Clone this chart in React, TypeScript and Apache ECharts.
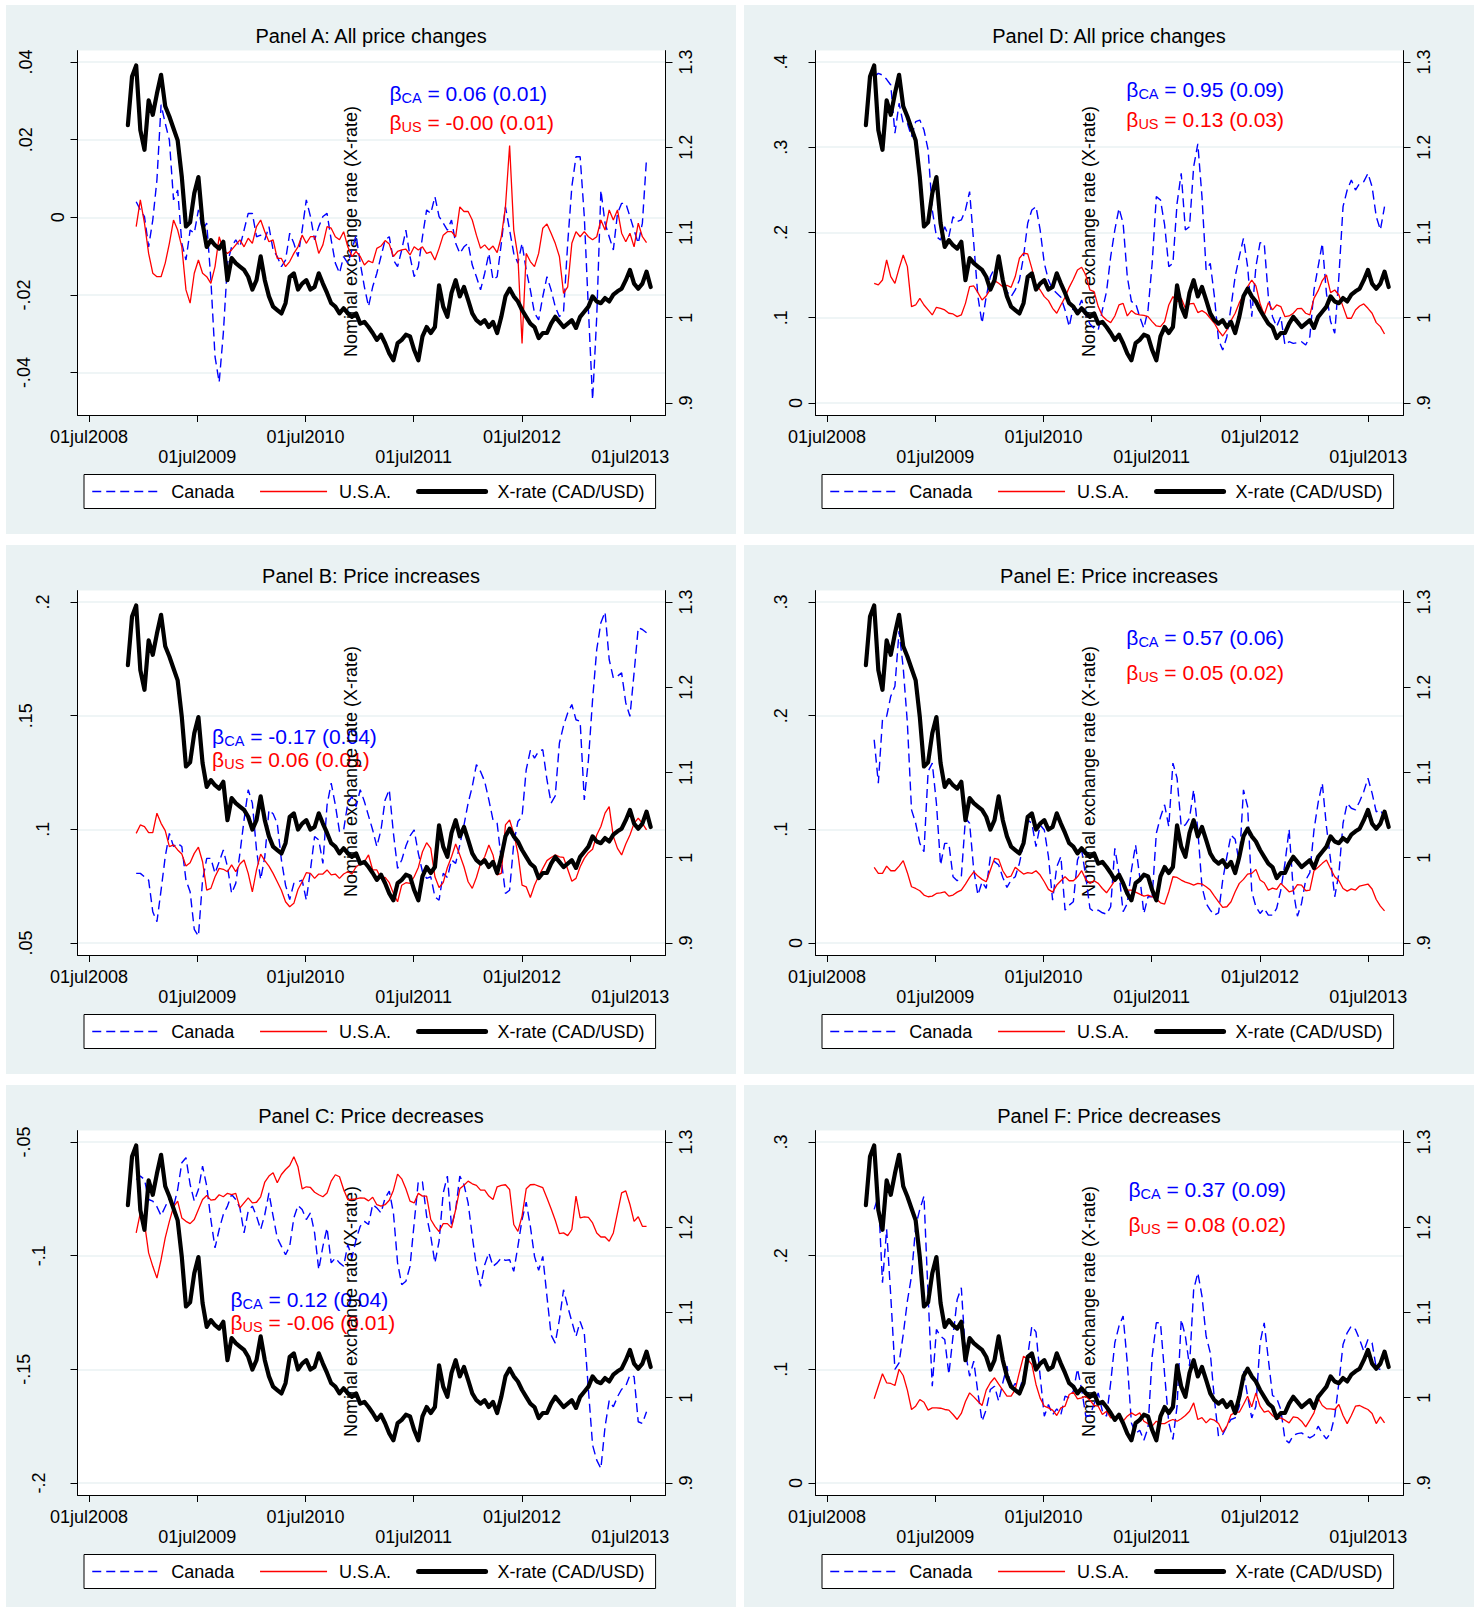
import React, { useEffect, useRef } from "react";
import * as echarts from "echarts";

const FONT = '"Liberation Sans", Arial, Helvetica, sans-serif';
const BG = "#eaf2f3";
const BLUE = "#0000ff";
const RED = "#ff0000";
const DAY = 86400000;

// sampling of the weekly series (every second week)
const startDate = Date.UTC(2008, 10, 9);
const stepDays = 14;
const axisMinDate = Date.UTC(2008, 4, 23);
const axisMaxDate = Date.UTC(2013, 9, 28);
const yearTickDates = [2008, 2009, 2010, 2011, 2012, 2013].map((y) => Date.UTC(y, 6, 1));
const rightTicks = [0.9, 1.0, 1.1, 1.2, 1.3];

// Nominal exchange rate CAD/USD (right axis, same in all panels)
const xRate = [
  1.226, 1.283, 1.296, 1.22, 1.197, 1.255, 1.238, 1.263, 1.285, 1.248,
  1.236, 1.222, 1.208, 1.165, 1.107, 1.112, 1.146, 1.165, 1.111, 1.083,
  1.091, 1.085, 1.081, 1.089, 1.044, 1.07, 1.064, 1.06, 1.056, 1.048,
  1.033, 1.044, 1.072, 1.044, 1.025, 1.013, 1.009, 1.005, 1.017, 1.048,
  1.052, 1.033, 1.04, 1.044, 1.033, 1.036, 1.052, 1.04, 1.029, 1.017,
  1.013, 1.005, 1.011, 1.005, 1.001, 1.005, 0.993, 0.995, 0.989, 0.982,
  0.974, 0.98, 0.97, 0.958, 0.95, 0.97, 0.974, 0.98, 0.978, 0.962,
  0.95, 0.978, 0.989, 0.982, 0.989, 1.038, 1.013, 1.001, 1.029, 1.044,
  1.025, 1.036, 1.021, 1.005, 0.997, 0.993, 0.997, 0.989, 0.995, 0.982,
  1.001, 1.025, 1.034, 1.025, 1.019, 1.009, 1.001, 0.993, 0.989, 0.976,
  0.982, 0.982, 0.993, 1.001, 0.995, 0.989, 0.993, 0.997, 0.988, 1.001,
  1.007, 1.013, 1.025, 1.019, 1.017, 1.023, 1.019, 1.027, 1.031, 1.034,
  1.044, 1.056, 1.04, 1.034, 1.04, 1.054, 1.036,
];

// Panel A: all price changes
const caA = [
  null, null,
  0.004, 0.0019, 0.0002, -0.0076, -0.0007, 0.0096, 0.029, 0.0242, 0.0199, 0.0045,
  0.007, -0.0067, -0.011, -0.0033, -0.0041, 0.0019, -0.0033, -0.0015, -0.0161, -0.0359,
  -0.0425, -0.0299, -0.0118, -0.0076, -0.0058, -0.0076, -0.0033, 0.001, 0.001, -0.005,
  -0.0046, -0.0058, -0.0024, -0.0084, -0.0101, -0.0127, -0.011, -0.0041, -0.0067, -0.0101,
  -0.0033, 0.0045, 0.0002, -0.0058, -0.0024, 0.0002, 0.001, -0.0058, -0.0118, -0.0144,
  -0.0101, -0.0118, -0.0084, -0.0046, -0.0118, -0.0179, -0.023, -0.0179, -0.0144, -0.0101,
  -0.0058, -0.005, -0.011, -0.0127, -0.0084, -0.0033, -0.0101, -0.0153, -0.0127, -0.005,
  0.0019, 0.001, 0.0053, 0.0002, -0.0015, -0.0033, -0.0007, -0.0067, -0.0093, -0.0076,
  -0.0067, -0.0123, -0.0153, -0.0187, -0.0144, -0.0093, -0.0161, -0.0153, -0.0067, 0.0027,
  -0.0033, -0.0093, -0.0118, -0.0067, -0.0136, -0.0187, -0.0247, -0.0264, -0.0204, -0.0153,
  -0.0187, -0.023, -0.0256, -0.0243, -0.0067, 0.0079, 0.0156, 0.0156, 0.0002, -0.0239,
  -0.047, -0.0256, 0.007, -0.0015, -0.005, -0.0084, 0.001, 0.0036, 0.0036, 0.0002,
  -0.0033, -0.0067, -0.0015, 0.0152,
];
const usA = [
  null, null,
  -0.0024, 0.0045, -0.0015, -0.0093, -0.0144, -0.0153, -0.0153, -0.0118, -0.0067, -0.0007,
  -0.0033, -0.0076, -0.0187, -0.0221, -0.0144, -0.011, -0.0144, -0.0153, -0.017, -0.0127,
  -0.005, -0.0084, -0.0093, -0.0084, -0.0071, -0.0058, -0.0076, -0.0054, -0.0067, -0.0024,
  -0.0007, -0.0037, -0.0063, -0.0058, -0.0106, -0.0106, -0.0127, -0.0114, -0.0093, -0.0076,
  -0.0046, -0.0067, -0.005, -0.005, -0.0093, -0.0071, -0.0024, -0.0028, -0.005, -0.0058,
  -0.0037, -0.0076, -0.0101, -0.0088, -0.0101, -0.0123, -0.0112, -0.0117, -0.008, -0.0074,
  -0.006, -0.0069, -0.0101, -0.0088, -0.0084, -0.0082, -0.0097, -0.0076, -0.0084, -0.0076,
  -0.0093, -0.0089, -0.011, -0.008, -0.0046, -0.0037, -0.0037, -0.005, 0.0027, 0.0015,
  0.0015, -0.0007, -0.0046, -0.008, -0.0071, -0.0084, -0.0074, -0.0091, -0.005, 0.0027,
  0.0185, -0.0033, -0.0101, -0.0325, -0.0093, -0.0114, -0.0127, -0.0093, -0.0028, -0.0017,
  -0.0041, -0.0067, -0.0101, -0.0196, -0.0179, -0.0067, -0.0037, -0.005, -0.0037, -0.005,
  -0.0058, -0.005, -0.0007, -0.0033, 0.0019, -0.0007, 0.0019, -0.0041, -0.0063, -0.0041,
  -0.0076, -0.0015, -0.005, -0.0065,
];

// Panel D: all price changes
const caD = [
  null, null,
  0.3828, 0.3867, 0.3847, 0.3797, 0.373, 0.3164, 0.3516, 0.3281, 0.3281, 0.3124,
  0.33, 0.3319, 0.3202, 0.2968, 0.2264, 0.1951, 0.1912, 0.2068, 0.1951, 0.2186,
  0.2127, 0.2147, 0.2264, 0.2479, 0.1873, 0.1247, 0.0934, 0.1247, 0.1482, 0.1579,
  0.1638, 0.1443, 0.1306, 0.1247, 0.1325, 0.1443, 0.1717, 0.2108, 0.2264, 0.2303,
  0.2029, 0.1638, 0.1443, 0.1333, 0.1286, 0.1239, 0.1091, 0.0895, 0.113, 0.1091,
  0.1208, 0.1032, 0.0926, 0.0875, 0.0856, 0.1091, 0.1306, 0.1717, 0.2029, 0.2283,
  0.2107, 0.1482, 0.1188, 0.1168, 0.1012, 0.0875, 0.1091, 0.1638, 0.242, 0.2381,
  0.2088, 0.1599, 0.1638, 0.2342, 0.2694, 0.2029, 0.2068, 0.2772, 0.3040, 0.242,
  0.156, 0.1638, 0.1247, 0.0738, 0.0621, 0.0777, 0.113, 0.1482, 0.1717, 0.1931,
  0.1599, 0.1012, 0.1599, 0.188, 0.1873, 0.1247, 0.1012, 0.0895, 0.1012, 0.0679,
  0.0718, 0.0699, 0.0707, 0.0718, 0.0679, 0.0777, 0.1325, 0.1599, 0.1873, 0.1286,
  0.0954, 0.0817, 0.1482, 0.2303, 0.2498, 0.2616, 0.2498, 0.2577, 0.2596, 0.2694,
  0.2537, 0.2186, 0.2029, 0.2303,
];
const usD = [
  null, null,
  0.1403, 0.1384, 0.1442, 0.1677, 0.1482, 0.1403, 0.1579, 0.1736, 0.1599, 0.113,
  0.1149, 0.1227, 0.1149, 0.1091, 0.1032, 0.1122, 0.111, 0.1091, 0.1052, 0.1044,
  0.1012, 0.1032, 0.1168, 0.1364, 0.1372, 0.1294, 0.1208, 0.1255, 0.1333, 0.1435,
  0.1403, 0.1364, 0.138, 0.1356, 0.1482, 0.1697, 0.1756, 0.1748, 0.1579, 0.1384,
  0.1325, 0.1247, 0.12, 0.111, 0.1052, 0.1149, 0.1239, 0.1356, 0.145, 0.156,
  0.1591, 0.1501, 0.1325, 0.1306, 0.113, 0.102, 0.0973, 0.0942, 0.102, 0.1149,
  0.1168, 0.102, 0.1083, 0.1044, 0.1032, 0.1028, 0.1012, 0.0954, 0.0903, 0.0895,
  0.0954, 0.1149, 0.1247, 0.1188, 0.1227, 0.111, 0.1161, 0.1168, 0.106, 0.1083,
  0.1052, 0.0993, 0.0934, 0.0848, 0.0785, 0.0856, 0.0965, 0.1052, 0.1176, 0.1266,
  0.1364, 0.1442, 0.1372, 0.1168, 0.1032, 0.1176, 0.1091, 0.1149, 0.113, 0.1012,
  0.102, 0.1052, 0.1106, 0.111, 0.1052, 0.1032, 0.1227, 0.1317, 0.1435, 0.1501,
  0.1294, 0.1325, 0.1266, 0.113, 0.0993, 0.0993, 0.1091, 0.1137, 0.1161, 0.111,
  0.1052, 0.0942, 0.0895, 0.0809,
];

// Panel B: price increases
const caB = [
  null, null,
  0.0806, 0.0806, 0.0791, 0.0776, 0.0637, 0.0593, 0.0732, 0.0879, 0.0982, 0.0924,
  0.0938, 0.0924, 0.0776, 0.0725, 0.056, 0.053, 0.0776, 0.0872, 0.0872, 0.0806,
  0.0857, 0.0909, 0.0835, 0.0718, 0.0762, 0.0894, 0.1041, 0.1174, 0.1115, 0.0909,
  0.0779, 0.0879, 0.1085, 0.1068, 0.1026, 0.0865, 0.0754, 0.0691, 0.0762, 0.0769,
  0.0776, 0.0688, 0.0821, 0.0968, 0.0953, 0.085, 0.1106, 0.1203, 0.1107, 0.099,
  0.0997, 0.1115, 0.1144, 0.11, 0.1174, 0.1122, 0.1059, 0.0997, 0.0924, 0.0997,
  0.1129, 0.1174, 0.0982, 0.0828, 0.0865, 0.0926, 0.0971, 0.0997, 0.0894, 0.0813,
  0.0784, 0.0791, 0.0703, 0.0688, 0.0806, 0.0788, 0.0865, 0.085, 0.0931, 0.1018,
  0.1115, 0.1188, 0.1284, 0.1254, 0.121, 0.1129, 0.1041, 0.1026, 0.0865, 0.0718,
  0.0732, 0.0938, 0.1034, 0.1056, 0.1262, 0.1347, 0.1313, 0.1343, 0.135, 0.1218,
  0.1115, 0.1147, 0.1379, 0.1456, 0.1512, 0.1549, 0.1482, 0.1475, 0.1129, 0.1306,
  0.1571, 0.1791, 0.1909, 0.1956, 0.1747, 0.1666, 0.1674, 0.1688, 0.1556, 0.1497,
  0.1688, 0.1887, 0.1879, 0.1865,
];
const usB = [
  null, null,
  0.0982, 0.1019, 0.1012, 0.0985, 0.0985, 0.1071, 0.1026, 0.0994, 0.0924, 0.0931,
  0.0909, 0.0891, 0.0838, 0.0853, 0.0894, 0.0921, 0.0857, 0.0732, 0.074, 0.0791,
  0.0828, 0.0824, 0.0813, 0.0843, 0.0813, 0.0847, 0.0865, 0.0806, 0.0725, 0.0821,
  0.0891, 0.0862, 0.0838, 0.0806, 0.0769, 0.0732, 0.0681, 0.0659, 0.0674, 0.0735,
  0.0769, 0.0809, 0.0806, 0.0784, 0.0803, 0.0803, 0.0821, 0.0799, 0.0803, 0.0784,
  0.0803, 0.0813, 0.0803, 0.0835, 0.0847, 0.0857, 0.0887, 0.0821, 0.0821, 0.0784,
  0.0788, 0.0765, 0.0718, 0.0681, 0.0754, 0.0765, 0.0762, 0.0791, 0.0832, 0.0901,
  0.0941, 0.0916, 0.0791, 0.0744, 0.0765, 0.0832, 0.0879, 0.0935, 0.0887, 0.0835,
  0.0769, 0.074, 0.0788, 0.085, 0.0879, 0.0931, 0.0887, 0.0799, 0.0806, 0.1019,
  0.1041, 0.0982, 0.0894, 0.0754, 0.0747, 0.07, 0.0754, 0.0794, 0.0828, 0.0862,
  0.0876, 0.0887, 0.0879, 0.0876, 0.0824, 0.0771, 0.0784, 0.0835, 0.0872, 0.0897,
  0.0912, 0.0975, 0.1012, 0.1071, 0.11, 0.0968, 0.0916, 0.0887, 0.0935, 0.0975,
  0.1026, 0.1049, 0.1026, 0.0997,
];

// Panel E: price increases
const caE = [
  null, null,
  0.1788, 0.1406, 0.1965, 0.1994, 0.2171, 0.2259, 0.2744, 0.2421, 0.1935, 0.1171,
  0.1053, 0.0876, 0.0803, 0.1509, 0.1582, 0.1229, 0.0685, 0.0876, 0.0876, 0.0582,
  0.0547, 0.0582, 0.1097, 0.1053, 0.0641, 0.0421, 0.0538, 0.0479, 0.0759, 0.0715,
  0.0685, 0.0576, 0.0488, 0.0553, 0.0582, 0.07, 0.0876, 0.1082, 0.1053, 0.0847,
  0.1038, 0.0994, 0.0759, 0.0376, 0.0671, 0.0759, 0.0288, 0.0332, 0.0362, 0.0729,
  0.0818, 0.0582, 0.0303, 0.0274, 0.0288, 0.0265, 0.0253, 0.0318, 0.0832, 0.0612,
  0.0274, 0.0347, 0.0641, 0.0862, 0.0582, 0.0259, 0.0406, 0.0406, 0.0965, 0.1106,
  0.1215, 0.1024, 0.1582, 0.145, 0.1024, 0.1038, 0.1097, 0.1347, 0.0994, 0.0494,
  0.0347, 0.0288, 0.0244, 0.0265, 0.0553, 0.0759, 0.095, 0.0912, 0.07, 0.1347,
  0.12, 0.045, 0.0318, 0.0259, 0.0303, 0.0244, 0.0244, 0.0303, 0.0465, 0.07,
  0.1, 0.0465, 0.0235, 0.0347, 0.0553, 0.0618, 0.0994, 0.1235, 0.1406, 0.1024,
  0.0729, 0.0406, 0.0612, 0.1053, 0.1229, 0.1185, 0.1171, 0.1244, 0.1332, 0.145,
  0.1318, 0.1153, 0.1171, 0.11,
];
const usE = [
  null, null,
  0.0665, 0.0612, 0.0612, 0.0676, 0.0635, 0.0635, 0.0676, 0.0724, 0.0618, 0.0494,
  0.0479, 0.0459, 0.0421, 0.0406, 0.0412, 0.0435, 0.0441, 0.045, 0.0412, 0.0421,
  0.0447, 0.0465, 0.0518, 0.0576, 0.0626, 0.0588, 0.0559, 0.0538, 0.0641, 0.0744,
  0.0735, 0.0635, 0.0576, 0.0588, 0.0665, 0.0635, 0.0606, 0.0618, 0.0612, 0.0635,
  0.0597, 0.0538, 0.0471, 0.0447, 0.0509, 0.0547, 0.0582, 0.0547, 0.0547, 0.0582,
  0.0635, 0.0559, 0.0524, 0.0547, 0.0524, 0.0479, 0.0441, 0.0494, 0.0547, 0.0582,
  0.0518, 0.0465, 0.0465, 0.0447, 0.0429, 0.0412, 0.0421, 0.0406, 0.0388, 0.0353,
  0.0341, 0.045, 0.0582, 0.0576, 0.0553, 0.0535, 0.0524, 0.0509, 0.0524, 0.0518,
  0.0494, 0.0465, 0.0412, 0.0362, 0.0312, 0.0318, 0.0362, 0.045, 0.0524, 0.0559,
  0.0606, 0.0612, 0.0647, 0.0553, 0.0529, 0.0465, 0.0482, 0.0471, 0.0524, 0.0488,
  0.045, 0.0459, 0.0512, 0.0509, 0.0459, 0.0465, 0.0635, 0.0665, 0.07, 0.0729,
  0.0653, 0.0582, 0.0547, 0.0479, 0.0456, 0.0476, 0.0465, 0.05, 0.0509, 0.0518,
  0.0474, 0.0382, 0.0324, 0.0282,
];

// Panel C: price decreases
const caC = [
  null, null,
  -0.0665, -0.065, -0.0665, -0.0753, -0.076, -0.0785, -0.0824, -0.0785, -0.0746, -0.0785,
  -0.0709, -0.0591, -0.0569, -0.0687, -0.076, -0.0709, -0.0606, -0.0694, -0.0841, -0.0966,
  -0.0885, -0.0819, -0.0782, -0.0731, -0.0753, -0.079, -0.09, -0.0804, -0.0782, -0.0826,
  -0.0885, -0.0819, -0.0724, -0.0826, -0.0922, -0.0959, -0.0996, -0.0959, -0.0834, -0.0779,
  -0.0797, -0.0841, -0.0812, -0.09, -0.1062, -0.0959, -0.0878, -0.1032, -0.101, -0.1032,
  -0.1047, -0.0951, -0.101, -0.0929, -0.0871, -0.0849, -0.0863, -0.0775, -0.079, -0.0812,
  -0.0746, -0.0716, -0.0812, -0.1032, -0.1128, -0.1113, -0.1047, -0.0856, -0.0672, -0.0676,
  -0.0826, -0.0915, -0.1032, -0.0937, -0.0724, -0.065, -0.0871, -0.0797, -0.065, -0.0687,
  -0.0768, -0.0915, -0.1047, -0.1135, -0.104, -0.0988, -0.1047, -0.1032, -0.101, -0.1021,
  -0.1018, -0.1069, -0.0959, -0.0841, -0.0765, -0.0871, -0.1003, -0.1065, -0.1003, -0.1179,
  -0.1349, -0.1385, -0.1282, -0.115, -0.1224, -0.129, -0.1356, -0.129, -0.1341, -0.1591,
  -0.1834, -0.19, -0.1937, -0.1753, -0.1638, -0.1665, -0.1621, -0.1588, -0.1574, -0.1525,
  -0.1532, -0.1731, -0.1738, -0.1687,
];
const usC = [
  null, null,
  -0.09, -0.0812, -0.0856, -0.0988, -0.1047, -0.1099, -0.1018, -0.0922, -0.0849, -0.0785,
  -0.076, -0.0834, -0.0849, -0.0859, -0.0841, -0.0797, -0.0753, -0.0735, -0.0756, -0.0753,
  -0.0732, -0.0741, -0.0726, -0.0731, -0.0726, -0.079, -0.0768, -0.0746, -0.0768, -0.0765,
  -0.0741, -0.0676, -0.065, -0.0635, -0.0679, -0.0643, -0.0621, -0.0603, -0.0565, -0.0609,
  -0.0706, -0.0697, -0.07, -0.0721, -0.0732, -0.0741, -0.0724, -0.0672, -0.0644, -0.0653,
  -0.0709, -0.0753, -0.0753, -0.075, -0.0746, -0.0747, -0.0759, -0.0743, -0.0776, -0.0782,
  -0.0776, -0.0756, -0.0712, -0.0641, -0.0662, -0.0706, -0.076, -0.0768, -0.0726, -0.0738,
  -0.0738, -0.0841, -0.0871, -0.0894, -0.0859, -0.0859, -0.0878, -0.0797, -0.0706, -0.069,
  -0.0672, -0.0684, -0.0691, -0.0712, -0.0712, -0.0738, -0.0753, -0.0697, -0.0691, -0.0688,
  -0.0709, -0.0863, -0.0893, -0.0826, -0.0706, -0.0688, -0.0687, -0.0694, -0.0701, -0.0746,
  -0.0794, -0.0844, -0.0903, -0.09, -0.0912, -0.0885, -0.0738, -0.0834, -0.0829, -0.0832,
  -0.0856, -0.09, -0.0918, -0.0918, -0.0937, -0.09, -0.0812, -0.0724, -0.0715, -0.0775,
  -0.0849, -0.0829, -0.0871, -0.0871,
];

// Panel F: price decreases
const caF = [
  null, null,
  0.2407, 0.2524, 0.1761, 0.2231, 0.1644, 0.0998, 0.1057, 0.1306, 0.16, 0.182,
  0.226, 0.2407, 0.2524, 0.1644, 0.085, 0.135, 0.1291, 0.1262, 0.0954, 0.1291,
  0.1614, 0.1717, 0.1145, 0.0939, 0.1071, 0.0792, 0.0543, 0.0645, 0.0822, 0.0851,
  0.0719, 0.0881, 0.1027, 0.0822, 0.0875, 0.0816, 0.0939, 0.1115, 0.138, 0.1327,
  0.0939, 0.0587, 0.069, 0.0599, 0.0652, 0.0602, 0.0763, 0.0748, 0.0807, 0.1004,
  0.0822, 0.0587, 0.0593, 0.0696, 0.0792, 0.0631, 0.0587, 0.0881, 0.1233, 0.138,
  0.1468, 0.1057, 0.0528, 0.0434, 0.0464, 0.0376, 0.0484, 0.1115, 0.1409, 0.1409,
  0.0954, 0.0528, 0.0382, 0.0675, 0.1438, 0.1291, 0.1027, 0.1702, 0.1849, 0.1644,
  0.1291, 0.1145, 0.0734, 0.0405, 0.0426, 0.0499, 0.0558, 0.0572, 0.0675, 0.0983,
  0.0763, 0.0572, 0.0675, 0.1233, 0.1409, 0.1086, 0.0769, 0.0748, 0.0646, 0.0382,
  0.0352, 0.0417, 0.0434, 0.044, 0.0417, 0.0396, 0.0417, 0.0499, 0.0434, 0.0387,
  0.044, 0.0587, 0.0881, 0.1218, 0.1321, 0.138, 0.135, 0.1262, 0.1159, 0.1262,
  0.1233, 0.1013, 0.0998,
];
const usF = [
  null, null,
  0.074, 0.0851, 0.096, 0.0881, 0.0875, 0.0857, 0.1, 0.0945, 0.0816, 0.0646,
  0.0675, 0.0734, 0.071, 0.064, 0.066, 0.066, 0.0657, 0.0646, 0.064, 0.0602,
  0.0558, 0.0611, 0.0716, 0.0792, 0.0757, 0.0719, 0.0681, 0.0816, 0.0881, 0.0925,
  0.0869, 0.0816, 0.0763, 0.0763, 0.0822, 0.0974, 0.1115, 0.1086, 0.1042, 0.0866,
  0.0746, 0.0675, 0.066, 0.064, 0.0593, 0.066, 0.0675, 0.0778, 0.0798, 0.074,
  0.0748, 0.0763, 0.0728, 0.0681, 0.0675, 0.0602, 0.0631, 0.0572, 0.0581, 0.0587,
  0.0543, 0.0587, 0.0616, 0.0593, 0.0616, 0.0543, 0.0522, 0.0499, 0.0543, 0.0522,
  0.0522, 0.0543, 0.0558, 0.0543, 0.0564, 0.0593, 0.0631, 0.0704, 0.0558, 0.0575,
  0.0528, 0.0564, 0.0552, 0.0522, 0.0446, 0.0499, 0.0599, 0.0622, 0.0622, 0.069,
  0.0763, 0.0669, 0.0792, 0.0675, 0.0622, 0.0634, 0.0593, 0.0564, 0.0572, 0.0552,
  0.0528, 0.0581, 0.0575, 0.0543, 0.0493, 0.0552, 0.0616, 0.0746, 0.0681, 0.0652,
  0.0652, 0.0646, 0.069, 0.0593, 0.0522, 0.0593, 0.0675, 0.0681, 0.0663, 0.0646,
  0.0611, 0.0522, 0.0581, 0.0528,
];

const legendNames = ["Canada", "U.S.A.", "X-rate (CAD/USD)"];

type PanelCfg = {
  key: string;
  left: number;
  top: number;
  height: number;
  title: string;
  ca: (number | null)[];
  us: (number | null)[];
  yMin: number;
  yMax: number;
  yTicks: number[];
  betaCA: string;
  betaUS: string;
  betaX: number;
  betaY: [number, number];
};

const panels: PanelCfg[] = [
  { key: "A", left: 6, top: 5, height: 529, title: "Panel A: All price changes", ca: caA, us: usA,
    yMin: -0.05092, yMax: 0.04294, yTicks: [-0.04, -0.02, 0, 0.02, 0.04],
    betaCA: "0.06 (0.01)", betaUS: "-0.00 (0.01)", betaX: 383.4, betaY: [88.4, 117] },
  { key: "D", left: 744, top: 5, height: 529, title: "Panel D: All price changes", ca: caD, us: usD,
    yMin: -0.0142, yMax: 0.41338, yTicks: [0, 0.1, 0.2, 0.3, 0.4],
    betaCA: "0.95 (0.09)", betaUS: "0.13 (0.03)", betaX: 382.3, betaY: [84.4, 114.4] },
  { key: "B", left: 6, top: 545, height: 529, title: "Panel B: Price increases", ca: caB, us: usB,
    yMin: 0.04468, yMax: 0.20502, yTicks: [0.05, 0.1, 0.15, 0.2],
    betaCA: "-0.17 (0.04)", betaUS: "0.06 (0.01)", betaX: 206.1, betaY: [191.7, 214.4] },
  { key: "E", left: 744, top: 545, height: 529, title: "Panel E: Price increases", ca: caE, us: usE,
    yMin: -0.01065, yMax: 0.31003, yTicks: [0, 0.1, 0.2, 0.3],
    betaCA: "0.57 (0.06)", betaUS: "0.05 (0.02)", betaX: 382.3, betaY: [92.7, 127] },
  { key: "C", left: 6, top: 1085, height: 522, title: "Panel C: Price decreases", ca: caC, us: usC,
    yMin: -0.20532, yMax: -0.04498, yTicks: [-0.2, -0.15, -0.1, -0.05],
    betaCA: "0.12 (0.04)", betaUS: "-0.06 (0.01)", betaX: 224.5, betaY: [214.4, 237] },
  { key: "F", left: 744, top: 1085, height: 522, title: "Panel F: Price decreases", ca: caF, us: usF,
    yMin: -0.01065, yMax: 0.31003, yTicks: [0, 0.1, 0.2, 0.3],
    betaCA: "0.37 (0.09)", betaUS: "0.08 (0.02)", betaX: 384.4, betaY: [104.4, 139.4] },
];

function stataNum(v: number): string {
  const r = Math.round(v * 10000) / 10000;
  if (r === 0) return "0";
  return String(r).replace(/^(-?)0\./, "$1.");
}

// Stata shifts its vertical tick labels by their horizontal width
function leftCls(s: string): string {
  const neg = s[0] === "-";
  const n = neg ? s.length - 1 : s.length;
  if (n === 1) return "a";
  if (n === 2) return neg ? "c" : "b";
  return neg ? "e" : "d";
}

const lbl = { fontSize: 18, color: "#000", fontFamily: FONT };
const leftRich = {
  a: { ...lbl, lineHeight: 36 },
  b: { ...lbl, lineHeight: 66 },
  c: { ...lbl, lineHeight: 74 },
  d: { ...lbl, lineHeight: 100 },
  e: { ...lbl, lineHeight: 104 },
};

function toPairs(arr: (number | null)[]) {
  const out: [number, number][] = [];
  arr.forEach((v, i) => {
    if (v !== null && v !== undefined) out.push([startDate + i * stepDays * DAY, v]);
  });
  return out;
}

function betaText(sub: string, rest: string, color: string, x: number, y: number) {
  return {
    type: "text",
    x,
    y,
    z: 1,
    style: {
      text: "{g|β}{s|" + sub + "}{g| = " + rest + "}",
      fill: color,
      align: "left",
      verticalAlign: "middle",
      rich: {
        g: { fontSize: 21, fontFamily: FONT, lineHeight: 24, fill: color },
        s: { fontSize: 14.5, fontFamily: FONT, lineHeight: 17, verticalAlign: "bottom", fill: color },
      },
    },
  };
}

function buildOption(p: PanelCfg) {
  const axisLineStyle = { color: "#000", width: 1 };
  return {
    animation: false,
    backgroundColor: BG,
    textStyle: { fontFamily: FONT },
    title: {
      text: p.title,
      left: "center",
      top: 21.2,
      padding: 0,
      textStyle: { fontSize: 20, fontWeight: "normal", color: "#000", fontFamily: FONT, lineHeight: 20 },
    },
    grid: {
      left: 71.5,
      top: 45.6,
      width: 588,
      height: 364.4,
      show: true,
      backgroundColor: "#fff",
      borderWidth: 0,
      outerBoundsMode: "none",
    },
    legend: {
      left: 78,
      top: 469.5,
      orient: "horizontal",
      itemWidth: 67,
      itemHeight: 18,
      itemGap: 25,
      padding: [8, 11, 8, 7.5],
      backgroundColor: "#fff",
      borderColor: "#000",
      borderWidth: 1,
      borderRadius: 0,
      selectedMode: false,
      itemStyle: { opacity: 0 },
      textStyle: { fontSize: 18, color: "#000", fontFamily: FONT, padding: [0, 0, 0, 7] },
      data: [
        { name: legendNames[0], itemStyle: { opacity: 0 }, lineStyle: { color: BLUE, width: 1.5, type: [9, 5] } },
        { name: legendNames[1], itemStyle: { opacity: 0 }, lineStyle: { color: RED, width: 1.5 } },
        { name: legendNames[2], itemStyle: { opacity: 0 }, lineStyle: { color: "#000", width: 5 } },
      ],
    },
    xAxis: {
      type: "value",
      min: axisMinDate,
      max: axisMaxDate,
      axisLine: { show: true, onZero: false, lineStyle: axisLineStyle },
      axisTick: { show: true, length: 7, customValues: yearTickDates, lineStyle: axisLineStyle },
      axisLabel: {
        show: true,
        customValues: yearTickDates,
        hideOverlap: false,
        margin: 12.8,
        fontSize: 18,
        lineHeight: 19.2,
        color: "#000",
        fontFamily: FONT,
        formatter: (v: number) => {
          const y = new Date(v).getUTCFullYear();
          const s = "01jul" + y;
          return y % 2 === 1 ? "\n" + s : s;
        },
      },
      splitLine: { show: false },
      minorTick: { show: false },
    },
    yAxis: [
      {
        type: "value",
        position: "left",
        min: p.yMin,
        max: p.yMax,
        axisLine: { show: true, onZero: false, lineStyle: axisLineStyle },
        axisTick: { show: true, length: 7, customValues: p.yTicks, lineStyle: axisLineStyle },
        axisLabel: {
          show: true,
          customValues: p.yTicks,
          rotate: 90,
          margin: 2,
          formatter: (v: number) => {
            const s = stataNum(v);
            return "{" + leftCls(s) + "|" + s + "}";
          },
          rich: leftRich,
        },
        splitLine: { show: true, lineStyle: { color: BG, width: 1.5 } },
      },
      {
        type: "value",
        position: "right",
        min: 0.8858,
        max: 1.31338,
        axisLine: { show: true, onZero: false, lineStyle: axisLineStyle },
        axisTick: { show: true, length: 7, customValues: rightTicks, lineStyle: axisLineStyle },
        axisLabel: {
          show: true,
          customValues: rightTicks,
          rotate: 90,
          margin: 2,
          formatter: (v: number) => "{r|" + stataNum(v) + "}",
          rich: { r: { ...lbl, lineHeight: 37 } },
        },
        splitLine: { show: false },
      },
    ],
    series: [
      {
        name: legendNames[0],
        type: "line",
        yAxisIndex: 0,
        data: toPairs(p.ca),
        symbol: "none",
        showSymbol: false,
        connectNulls: false,
        lineStyle: { color: BLUE, width: 1.4, type: [9, 5] },
        itemStyle: { color: BLUE },
        emphasis: { disabled: true },
        z: 2,
      },
      {
        name: legendNames[1],
        type: "line",
        yAxisIndex: 0,
        data: toPairs(p.us),
        symbol: "none",
        showSymbol: false,
        lineStyle: { color: RED, width: 1.3 },
        itemStyle: { color: RED },
        emphasis: { disabled: true },
        z: 3,
      },
      {
        name: legendNames[2],
        type: "line",
        yAxisIndex: 1,
        data: toPairs(xRate),
        symbol: "none",
        showSymbol: false,
        lineStyle: { color: "#000", width: 4.2, join: "round", cap: "round" },
        itemStyle: { color: "#000" },
        emphasis: { disabled: true },
        z: 4,
      },
    ],
    graphic: [
      betaText("CA", p.betaCA, BLUE, p.betaX, p.betaY[0]),
      betaText("US", p.betaUS, RED, p.betaX, p.betaY[1]),
      {
        type: "text",
        x: 345,
        y: 226.5,
        rotation: Math.PI / 2,
        z: 1,
        style: {
          text: "Nominal exchange rate (X-rate)",
          fontSize: 18,
          fontFamily: FONT,
          fill: "#000",
          align: "center",
          verticalAlign: "middle",
        },
      },
    ],
  };
}

export default function App() {
  const refs = useRef<(HTMLDivElement | null)[]>([]);
  useEffect(() => {
    const charts = panels.map((p, i) => {
      const el = refs.current[i] as HTMLDivElement;
      const c = echarts.init(el, undefined, { renderer: "svg" });
      c.setOption(buildOption(p) as any);
      return c;
    });
    return () => {
      charts.forEach((c) => c.dispose());
    };
  }, []);
  return (
    <div
      style={{
        position: "absolute",
        left: 0,
        top: 0,
        width: 1479,
        height: 1609,
        background: "#fff",
        overflow: "hidden",
      }}
    >
      {panels.map((p, i) => (
        <div
          key={p.key}
          ref={(el) => {
            refs.current[i] = el;
          }}
          style={{ position: "absolute", left: p.left, top: p.top, width: 730, height: p.height }}
        />
      ))}
    </div>
  );
}
